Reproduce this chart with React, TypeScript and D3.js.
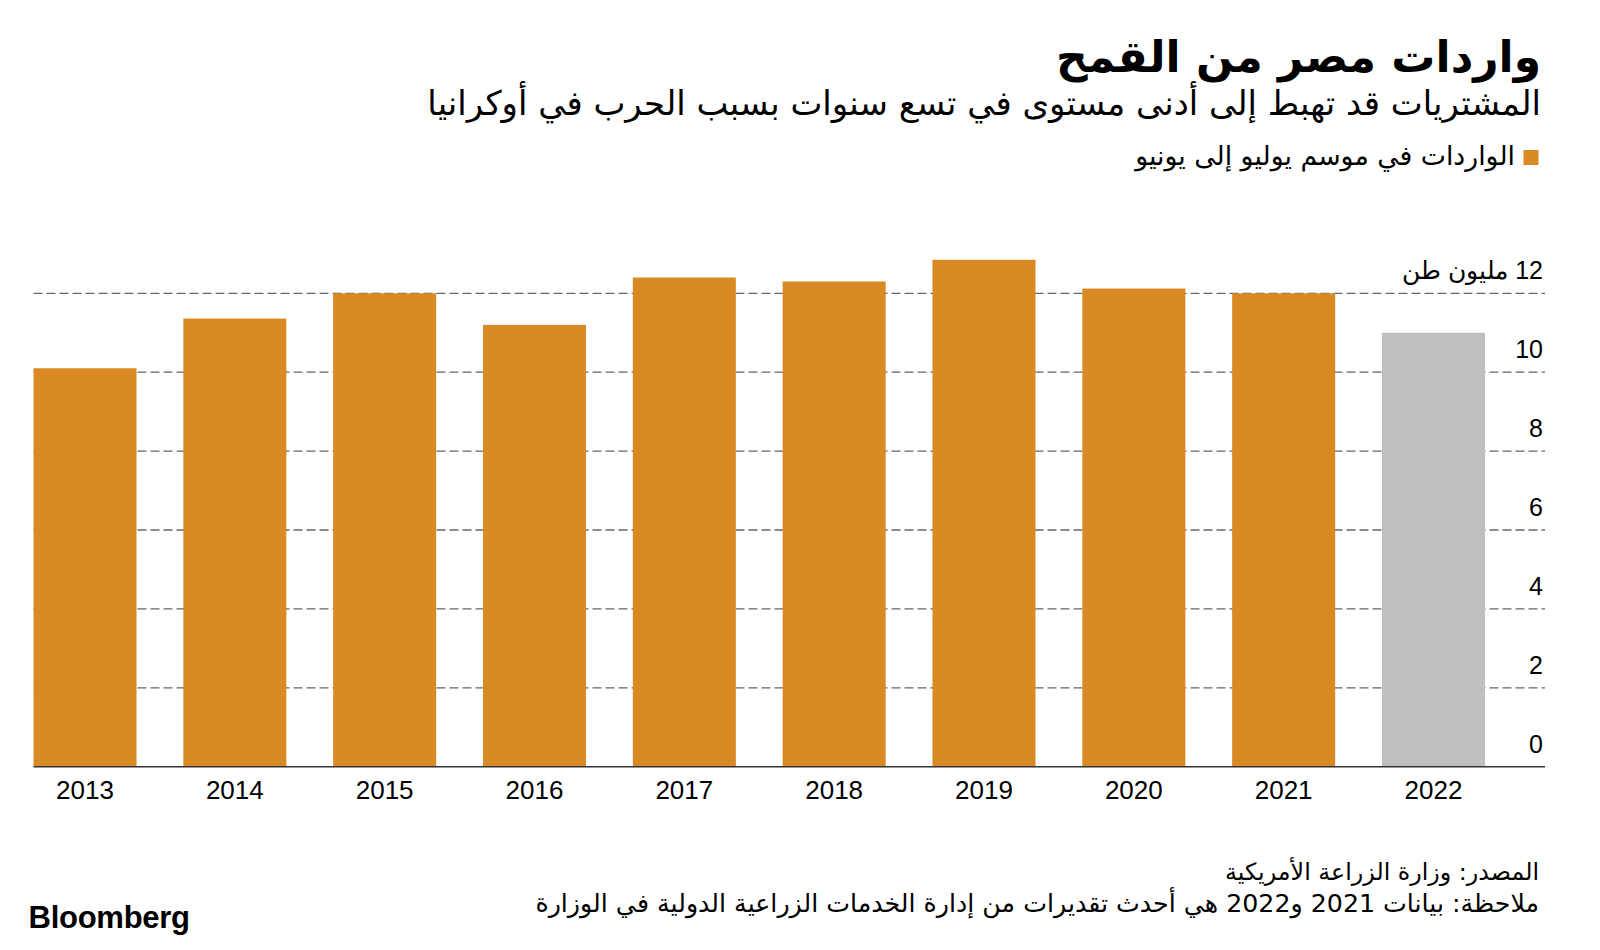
import React, { useRef, useLayoutEffect, useState } from "react";
import * as d3 from "d3";

const years = ["2013", "2014", "2015", "2016", "2017", "2018", "2019", "2020", "2021", "2022"];
const imports = [10.1, 11.36, 12.0, 11.2, 12.4, 12.3, 12.85, 12.12, 12.0, 11.0];
const estimateYears = ["2022"];
const yTicks = [0, 2, 4, 6, 8, 10, 12];
const title = "واردات مصر من القمح";
const subtitle = "المشتريات قد تهبط إلى أدنى مستوى في تسع سنوات بسبب الحرب في أوكرانيا";
const legendLabel = "الواردات في موسم يوليو إلى يونيو";
const unitLabel = "مليون طن";
const sourceText = "المصدر: وزارة الزراعة الأمريكية";
const noteText = "ملاحظة: بيانات 2021 و2022 هي أحدث تقديرات من إدارة الخدمات الزراعية الدولية في الوزارة";
const brand = "Bloomberg";

const W = 1600;
const H = 950;
const ORANGE = "#D98A24";
const GRAY = "#BFBFBF";
const AR = "'DejaVu Sans', 'Noto Sans', sans-serif";
const NUM = "'Liberation Sans', Arial, sans-serif";

function FitText(props: any) {
  const { target, base, children, ...rest } = props;
  const ref = useRef<SVGTextElement>(null);
  const [size, setSize] = useState(base);
  useLayoutEffect(() => {
    const el = ref.current;
    if (!el) return;
    const w = el.getComputedTextLength();
    if (w > 0) {
      const s = (base * target) / w;
      if (Math.abs(s - size) > 0.05) setSize(s);
    }
  }, []);
  return (
    <text ref={ref} fontSize={size} {...rest}>
      {children}
    </text>
  );
}

export default function App() {
  const left = 33.5;
  const right = 1485;
  const axisRight = 1545;
  const x = d3.scaleBand<string>().domain(years).range([left, right]).paddingInner(0.3125).paddingOuter(0);
  const y = d3.scaleLinear().domain([0, 12]).range([766.7, 293.3]);

  return (
    <svg width={W} height={H} viewBox={`0 0 ${W} ${H}`} style={{ position: "absolute", left: 0, top: 0, background: "#fff" }}>
      <rect x={0} y={0} width={W} height={H} fill="#fff" />
      {/* Title */}
      <FitText x={1541} y={72} target={485} base={50} direction="rtl" textAnchor="start" fontFamily={AR} fontWeight="bold" fill="#000">
        {title}
      </FitText>
      <FitText x={1541} y={115} target={1114} base={30} direction="rtl" textAnchor="start" fontFamily={AR} fill="#000">
        {subtitle}
      </FitText>
      {/* Legend */}
      <rect x={1523.5} y={150} width={15} height={15} fill={ORANGE} />
      <FitText x={1515} y={165} target={380} base={21} direction="rtl" textAnchor="start" fontFamily={AR} fill="#000">
        {legendLabel}
      </FitText>

      {/* Gridlines */}
      {yTicks
        .filter((t) => t > 0)
        .map((t) => (
          <line key={"g" + t} x1={left} x2={axisRight} y1={y(t)} y2={y(t)} stroke="#666" strokeWidth={1.3} strokeDasharray="9,4" />
        ))}

      {/* Bars */}
      {years.map((yr, i) => (
        <rect
          key={yr}
          x={x(yr)}
          y={y(imports[i])}
          width={x.bandwidth()}
          height={y(0) - y(imports[i])}
          fill={estimateYears.includes(yr) ? GRAY : ORANGE}
        />
      ))}

      {/* Baseline */}
      <line x1={left} x2={axisRight} y1={y(0)} y2={y(0)} stroke="#333" strokeWidth={1.5} />

      {/* Y tick labels */}
      {yTicks.map((t) =>
        t === 12 ? (
          <text key={"t" + t} x={1543} y={y(t) - 14} direction="rtl" textAnchor="start" fontFamily={NUM} fontSize={25} fill="#000">
            {`${t} ${unitLabel}`}
          </text>
        ) : (
          <text key={"t" + t} x={1543} y={y(t) - 14} textAnchor="end" fontFamily={NUM} fontSize={25} fill="#000">
            {t}
          </text>
        )
      )}

      {/* X labels */}
      {years.map((yr) => (
        <text key={"x" + yr} x={(x(yr) as number) + x.bandwidth() / 2} y={799} textAnchor="middle" fontFamily={NUM} fontSize={26} fill="#000">
          {yr}
        </text>
      ))}

      {/* Footer */}
      <FitText x={1539} y={880} target={314} base={22} direction="rtl" textAnchor="start" fontFamily={AR} fill="#000">
        {sourceText}
      </FitText>
      <FitText x={1539} y={912} target={1004} base={22} direction="rtl" textAnchor="start" fontFamily={AR} fill="#000">
        {noteText}
      </FitText>
      <FitText x={28.6} y={928} target={161} base={28} fontFamily={NUM} fontWeight="bold" letterSpacing={-0.3} fill="#000">
        {brand}
      </FitText>
    </svg>
  );
}
